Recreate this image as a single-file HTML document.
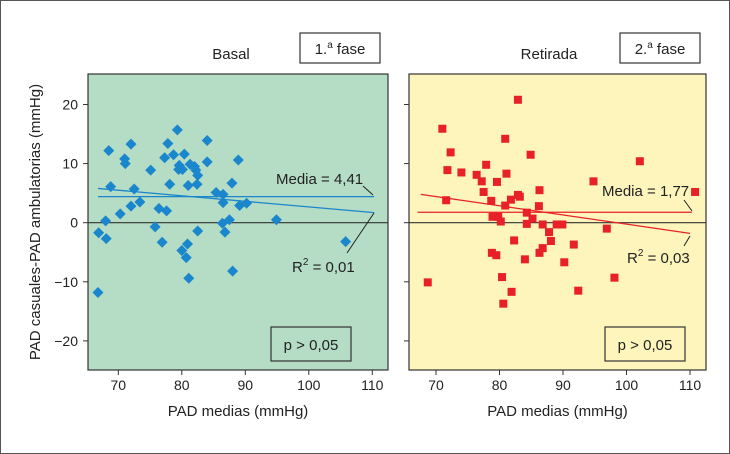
<!DOCTYPE html>
<html><head><meta charset="utf-8"><style>
body{margin:0;background:#fff}
svg{display:block;font-family:"Liberation Sans",Arial,sans-serif}
</style></head><body>
<svg id="c" width="730" height="454" viewBox="0 0 730 454">
<rect x="0.5" y="0.5" width="729" height="453" fill="#fff" stroke="#555"/>
</svg>
<script>
const basalX=[66.8,66.9,68.1,68.0,68.5,68.8,70.3,71.0,71.1,72.0,72.0,72.5,73.4,75.1,75.8,76.4,76.9,77.6,77.3,77.8,78.1,78.7,79.3,79.5,79.6,80.1,80.0,80.4,80.7,80.9,81.1,81.0,81.3,82.0,82.2,82.5,82.4,82.5,84.0,84.0,85.4,86.5,86.5,86.4,86.8,87.5,87.9,88.0,88.9,89.1,90.2,94.9,105.8];
const basalY=[-11.8,-1.7,-2.7,0.3,12.2,6.1,1.5,10.8,10.0,2.8,13.3,5.7,3.5,8.9,-0.7,2.4,-3.3,2.0,11.0,13.4,6.5,11.5,15.7,9.0,9.7,9.0,-4.7,11.6,-5.9,-3.6,-9.4,6.3,9.9,9.5,8.9,8.0,6.5,-1.4,13.9,10.3,5.1,4.8,3.4,-0.1,-1.6,0.5,6.7,-8.2,10.6,2.9,3.3,0.5,-3.2];
const retX=[68.7,71.0,71.8,72.3,71.6,74.0,76.4,77.2,77.9,77.5,78.7,78.9,79.6,79.8,80.2,78.8,79.5,80.4,80.6,80.9,81.1,80.9,81.8,82.3,81.9,82.9,82.9,83.2,84.0,84.3,84.3,84.9,85.2,86.3,86.2,86.8,86.3,86.8,87.8,88.1,89.0,89.9,90.2,91.7,92.4,94.8,96.9,98.1,102.1,110.8];
const retY=[-10.1,15.9,8.9,11.9,3.8,8.5,8.1,7.0,9.8,5.2,3.7,1.0,6.9,1.0,0.2,-5.1,-5.5,-9.2,-13.7,14.2,8.3,2.9,3.9,-3.0,-11.7,20.8,4.7,4.4,-6.2,1.7,-0.2,11.5,0.7,5.5,2.8,-0.3,-5.1,-4.3,-1.6,-3.1,-0.3,-0.3,-6.7,-3.7,-11.5,7.0,-1.0,-9.3,10.4,5.2];
const xTicks=[70,80,90,100,110];
const yTicks=[-20,-10,0,10,20];
const basalMean=4.41, retMean=1.77;
const basalReg=[[66.8,5.8],[110.3,1.7]];
const retReg=[[67.6,4.8],[110,-1.8]];

const NS="http://www.w3.org/2000/svg";
const svg=document.getElementById('c');
function el(t,a,txt,p){const e=document.createElementNS(NS,t);for(const k in a)e.setAttribute(k,a[k]);if(txt!=null)e.textContent=txt;(p||svg).appendChild(e);return e;}
const yS=v=>222.7-v*5.91;

function panel(o){
  const xS=v=>o.x70+(v-70)*6.35;
  const g=el('g',{});
  
  
  const bg=el('rect',{x:o.x0,y:74,width:o.x1-o.x0,height:296,fill:o.bg,stroke:'#333','stroke-width':1.2},null,g);
  
  
  xTicks.forEach(t=>{
    const x=xS(t);
    el('line',{x1:x,x2:x,y1:370,y2:375,stroke:'#333'},null,g);
    const tl=el('text',{x:x,y:390,'text-anchor':'middle','font-size':14,fill:'#222'},t,g);
    
    
  });
  yTicks.forEach(t=>{
    const y=yS(t);
    el('line',{x1:o.x0-5,x2:o.x0,y1:y,y2:y,stroke:'#333'},null,g);
    if(o.labels){
      const tl=el('text',{x:o.x0-10,y:y+5,'text-anchor':'end','font-size':14,fill:'#222'},t===0?'0':(t<0?'\u2212'+(-t):t),g);
      
      
    }
  });
  const z=el('line',{x1:o.x0,x2:o.x1,y1:yS(0),y2:yS(0),stroke:'#333','stroke-width':1.2},null,g);
  
  
  o.xs.forEach((v,i)=>{
    const cx=xS(v),cy=yS(o.ys[i]);
    let m;
    if(o.shape==='diamond') m=el('polygon',{points:`${cx},${cy-5.5} ${cx+5.5},${cy} ${cx},${cy+5.5} ${cx-5.5},${cy}`,fill:o.col},null,g);
    else m=el('rect',{x:cx-4,y:cy-4,width:8,height:8,fill:o.col},null,g);
    
    
  });
  const ml=el('line',{x1:xS(o.mx[0]),x2:xS(o.mx[1]),y1:yS(o.mean),y2:yS(o.mean),stroke:o.col,'stroke-width':1.3},null,g);
  
  
  const rl=el('line',{x1:xS(o.reg[0][0]),y1:yS(o.reg[0][1]),x2:xS(o.reg[1][0]),y2:yS(o.reg[1][1]),stroke:o.col,'stroke-width':1.3},null,g);
  
  
  const a=el('text',{x:o.ml[0],y:o.ml[1],'font-size':15,fill:'#222'},o.meanTxt,g);
  
  
  el('line',{x1:o.mc[0],y1:o.mc[1],x2:o.mc[2],y2:o.mc[3],stroke:'#222'},null,g);
  const r=el('text',{x:o.rl[0],y:o.rl[1],'font-size':15,fill:'#222'},null,g);
  
  
  el('tspan',{},'R',r);el('tspan',{'font-size':10,dy:-7},'2',r);el('tspan',{dy:7},' = '+o.r2,r);
  el('line',{x1:o.rc[0],y1:o.rc[1],x2:o.rc[2],y2:o.rc[3],stroke:'#222'},null,g);
  const pb=el('rect',{x:o.pb,y:327,width:80,height:34,fill:'none',stroke:'#333','stroke-width':1.2},null,g);
  
  
  el('text',{x:o.pb+40,y:350,'text-anchor':'middle','font-size':15,fill:'#222'},'p > 0,05',g);
  const tt=el('text',{x:o.tx,y:59,'text-anchor':'middle','font-size':15,fill:'#222'},o.title,g);
  
  
  const fb=el('rect',{x:o.fb,y:33,width:80,height:30,fill:'#fff',stroke:'#333','stroke-width':1.2},null,g);
  
  
  const ft=el('text',{x:o.fb+40,y:54,'text-anchor':'middle','font-size':15,fill:'#222'},null,g);
  el('tspan',{},o.phase,ft);el('tspan',{'font-size':10,dy:-6},'a',ft);el('tspan',{dy:6},' fase',ft);
  const xa=el('text',{x:(o.x0+o.x1)/2,y:416,'text-anchor':'middle','font-size':15,fill:'#222'},'PAD medias (mmHg)',g);
  
  
}
panel({name:'basal',x0:88,x1:388,x70:118.3,bg:'#b5dcc4',col:'#1a86cc',shape:'diamond',labels:true,xs:basalX,ys:basalY,mean:basalMean,mx:[66.8,110.3],reg:basalReg,
 meanTxt:'Media = 4,41',ml:[276,184],mc:[363,186,373,195],r2:'0,01',rl:[292,272],rc:[374,213,347,253],pb:271,tx:231,title:'Basal',fb:300,phase:'1.'});
panel({name:'retirada',x0:409,x1:706,x70:436,bg:'#fdf5bb',col:'#e8202a',shape:'square',labels:false,xs:retX,ys:retY,mean:retMean,mx:[67.1,110.3],reg:retReg,
 meanTxt:'Media = 1,77',ml:[602,196],mc:[684,200,692,211],r2:'0,03',rl:[627,263],rc:[690,236,684,246],pb:605,tx:549,title:'Retirada',fb:620,phase:'2.'});
const yt=el('text',{x:0,y:0,'text-anchor':'middle','font-size':15,fill:'#222',transform:'translate(40,222) rotate(-90)'},'PAD casuales-PAD ambulatorias (mmHg)');


</script>
</body></html>
